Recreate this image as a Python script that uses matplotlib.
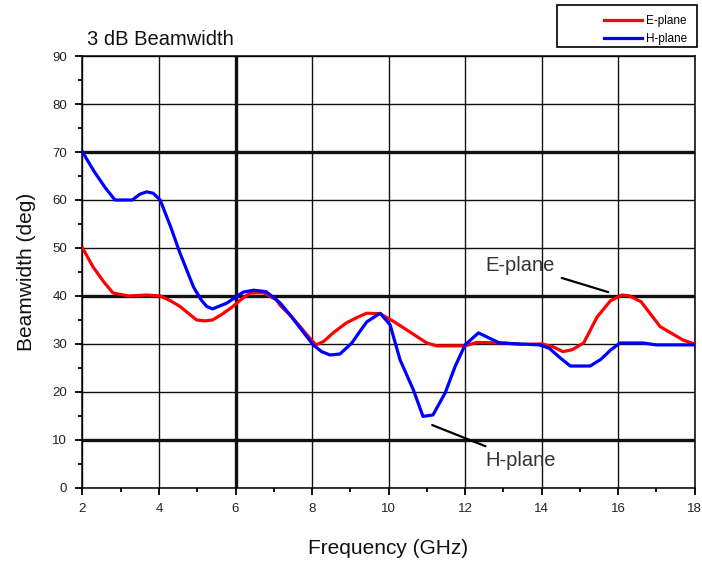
import numpy as np
import matplotlib
matplotlib.use('Agg')
import matplotlib.pyplot as plt
from matplotlib.ticker import MultipleLocator
from matplotlib.patches import Rectangle

plt.rcParams['font.family'] = ['Liberation Sans', 'DejaVu Sans']

# E-plane (red) beamwidth
e_freq = [2.0, 2.28, 2.55, 2.8, 3.2, 3.68, 4.03, 4.3, 4.55, 4.98, 5.2, 5.4, 5.65, 5.93,
          6.15, 6.38, 6.72, 7.07, 7.16, 7.45, 7.69, 7.9, 8.1, 8.3, 8.55, 8.9, 9.2, 9.43,
          9.78, 10.13, 10.48, 11.0, 11.26, 12.0, 12.3, 13.0, 13.5, 14.0, 14.3, 14.56,
          14.8, 15.1, 15.45, 15.8, 16.1, 16.3, 16.6, 17.1, 17.7, 18.0]
e_bw = [50.0, 46.0, 43.0, 40.6, 40.0, 40.2, 40.0, 39.0, 37.8, 35.0, 34.8, 35.0, 36.2, 37.8,
        39.3, 40.6, 40.7, 39.2, 38.1, 35.8, 33.6, 31.6, 29.8, 30.5, 32.3, 34.4, 35.6, 36.4,
        36.3, 34.7, 32.9, 30.2, 29.6, 29.6, 30.3, 30.2, 29.9, 30.0, 29.4, 28.4,
        28.8, 30.2, 35.6, 39.0, 40.2, 40.0, 38.8, 33.6, 30.8, 30.0]

# H-plane (blue) beamwidth
h_freq = [2.0, 2.3, 2.6, 2.85, 3.3, 3.5, 3.68, 3.85, 4.03, 4.3, 4.55, 4.9, 5.1, 5.25, 5.4,
          5.77, 6.2, 6.47, 6.8, 7.16, 7.45, 7.69, 8.03, 8.25, 8.47, 8.73, 9.04, 9.25,
          9.43, 9.78, 10.04, 10.3, 10.65, 10.9, 11.16, 11.48, 11.74, 12.0, 12.35, 12.9,
          13.95, 14.2, 14.5, 14.75, 15.27, 15.55, 15.8, 16.05, 16.65, 17.0, 18.0]
h_bw = [70.0, 66.0, 62.5, 60.0, 60.0, 61.2, 61.7, 61.4, 60.0, 54.5, 48.9, 41.9, 39.2, 37.8,
        37.3, 38.5, 40.8, 41.2, 40.9, 38.6, 35.8, 33.3, 29.8, 28.4, 27.7, 27.9, 30.2, 32.6,
        34.6, 36.4, 34.0, 26.7, 20.4, 14.9, 15.2, 19.8, 25.3, 29.8, 32.3, 30.2,
        29.8, 29.1, 27.0, 25.4, 25.4, 26.8, 28.7, 30.2, 30.2, 29.8, 29.8]

x_ticks = [2, 4, 6, 8, 10, 12, 14, 16, 18]
y_ticks = [0, 10, 20, 30, 40, 50, 60, 70, 80, 90]
thick_y = [10, 40, 70]
thick_x = [6]

fig = plt.figure(figsize=(7.02, 5.66), dpi=100)
ax = fig.add_axes([0.1175, 0.138, 0.872, 0.763])

# grid lines, a few drawn heavier like in the original
for y in y_ticks:
    ax.axhline(y, color='#111111', lw=2.4 if y in thick_y else 1.0, zorder=1)
for x in x_ticks:
    ax.axvline(x, color='#111111', lw=2.4 if x in thick_x else 1.0, zorder=1)

ax.plot(e_freq, e_bw, color='#ff0000', lw=2.3, label='E-plane', zorder=3)
ax.plot(h_freq, h_bw, color='#0000ff', lw=2.3, label='H-plane', zorder=4)

ax.set_xlim(2, 18)
ax.set_ylim(0, 90)
ax.set_xticks(x_ticks)
ax.set_yticks(y_ticks)
ax.xaxis.set_minor_locator(MultipleLocator(1))
ax.yaxis.set_minor_locator(MultipleLocator(5))
ax.tick_params(which='both', direction='out', width=1.3, labelsize=9.5, pad=6,
               labelcolor='#222222')
ax.tick_params(which='major', length=5)
ax.tick_params(which='minor', length=3)
for s in ax.spines.values():
    s.set_linewidth(1.1)

ax.set_xlabel('Frequency (GHz)', fontsize=15, labelpad=17, color='#111111')
ax.set_ylabel('Beamwidth (deg)', fontsize=15, labelpad=12, color='#111111')

fig.text(0.124, 0.921, '3 dB Beamwidth', fontsize=14.5, color='#111111')

ax.annotate('E-plane', xy=(15.74, 40.8), xytext=(14.35, 46.4), fontsize=14.5,
            color='#333333', ha='right', va='center',
            arrowprops=dict(arrowstyle='-', color='black', lw=1.6, shrinkA=3, shrinkB=0))
ax.annotate('H-plane', xy=(11.14, 13.1), xytext=(12.52, 5.8), fontsize=14.5,
            color='#333333', ha='left', va='center',
            arrowprops=dict(arrowstyle='-', color='black', lw=1.6, shrinkA=3, shrinkB=0))

# legend box sits in the top right corner, outside the axes
W, H = 702.0, 566.0
fig.patches.append(Rectangle((557 / W, 1 - 47 / H), 140 / W, 42 / H, transform=fig.transFigure,
                             facecolor='white', edgecolor='black', lw=1.2))
leg = fig.legend(loc='upper right', bbox_to_anchor=(697 / W, 1 - 6 / H), fontsize=8.5,
                 handlelength=3.2, handletextpad=0.4, frameon=False,
                 borderpad=0.3, labelspacing=0.45)

fig.savefig('out.png', dpi=100)
